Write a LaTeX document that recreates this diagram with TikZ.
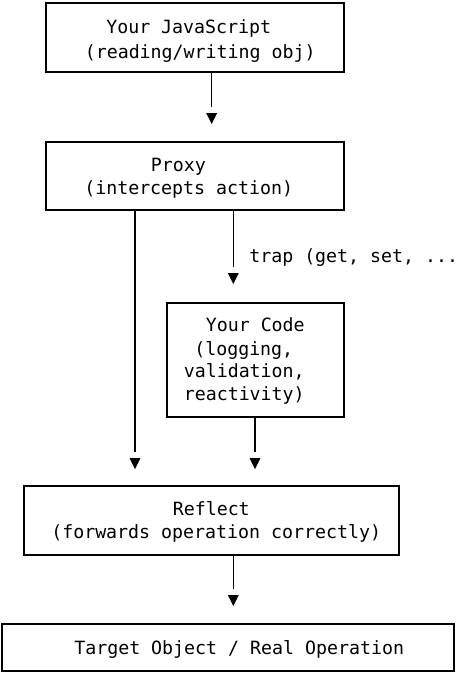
\documentclass[tikz,border=0pt]{standalone}
\usepackage{fontspec}
\setmonofont{DejaVu Sans Mono}
\usepackage{tikz}
\usetikzlibrary{positioning, calc}

\tikzset{
  box/.style={draw, line width=0.8pt, inner sep=0pt},
  lbl/.style={anchor=base west, inner sep=0pt, font=\ttfamily\fontsize{13.7}{16}\selectfont},
  link/.style={line width=0.8pt, shorten >=4.5pt},
  tri/.pic={\fill (-5.5,0) -- (5.5,0) -- (0,11) -- cycle;}
}

\begin{document}
\begin{tikzpicture}[x=0.75pt, y=-0.75pt]
\useasboundingbox (0,0) rectangle (457,675);

% boxes
\node[box, minimum width=223.5pt, minimum height=51.75pt] (js) at (195,37.5) {};
\node[box, minimum width=223.5pt, minimum height=51pt] (proxy) at (195,176) {};
\node[box, minimum width=132.75pt, minimum height=85.5pt] (code) at (255.5,360) {};
\node[box, minimum width=281.25pt, minimum height=51.75pt] (reflect) at (211.5,520.5) {};
\node[box, minimum width=339pt, minimum height=35.25pt] (target) at (228,647.5) {};

% texts
\node[lbl] (js1) at (106,33) {Your JavaScript};
\node[lbl] (js2) at (84.5,58) {(reading/writing obj)};
\node[lbl] (px1) at (150.5,171.7) {Proxy};
\node[lbl] (px2) at (84,194) {(intercepts action)};
\node[lbl] (trap) at (249,262.7) {trap (get, set, ...};
\node[lbl] (cd1) at (205.5,331.7) {Your Code};
\node[lbl] (cd2) at (194,355) {(logging,};
\node[lbl] (cd3) at (183.5,377.3) {validation,};
\node[lbl] (cd4) at (183.5,400) {reactivity)};
\node[lbl] (rf1) at (172.5,515.7) {Reflect};
\node[lbl] (rf2) at (51,538.3) {(forwards operation correctly)};
\node[lbl] (tg1) at (74,654.3) {Target Object / Real Operation};

% arrow heads
\coordinate (a1) at (211.7,113);
\coordinate (a2) at (135,458);
\coordinate (a3) at (233.3,273);
\coordinate (a4) at (255,458);
\coordinate (a5) at (233.3,595);

\draw[link] (js.south -| a1) -- (a1);
\draw[link] (proxy.south -| a2) -- (a2);
\draw[link] (proxy.south -| a3) -- (a3);
\draw[link] (code.south -| a4) -- (a4);
\draw[link] (reflect.south -| a5) -- (a5);
\foreach \p in {a1,a2,a3,a4,a5}{\pic at (\p) {tri};}
\end{tikzpicture}
\end{document}
